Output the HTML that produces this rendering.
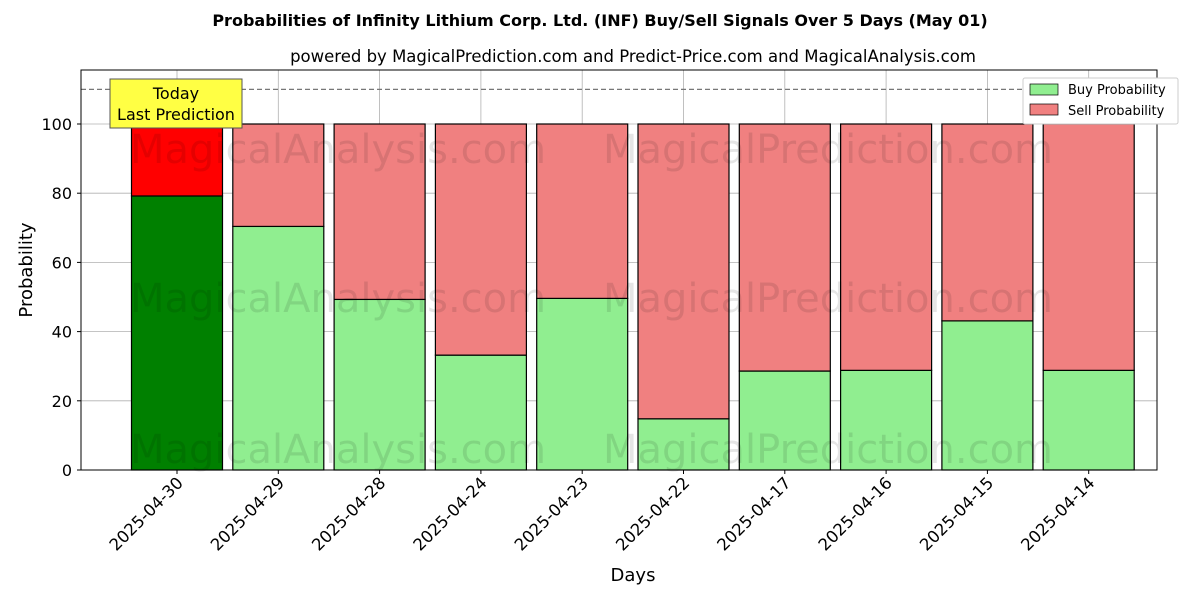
<!DOCTYPE html>
<html><head><meta charset="utf-8"><style>
body{margin:0;background:#fff;}
svg text{font-family:"DejaVu Sans","Liberation Sans",sans-serif;}
</style></head><body>
<svg id="chart" width="1200" height="600" xmlns="http://www.w3.org/2000/svg">
<text x="600" y="26" text-anchor="middle" font-size="16" font-weight="bold">Probabilities of Infinity Lithium Corp. Ltd. (INF) Buy/Sell Signals Over 5 Days (May 01)</text>
<text x="633" y="62" text-anchor="middle" font-size="16.5">powered by MagicalPrediction.com and Predict-Price.com and MagicalAnalysis.com</text>
<g id="grid"></g>
<g id="bars"></g>
<g id="wm" fill="#000" fill-opacity="0.1" font-size="40">
<text x="130" y="163">MagicalAnalysis.com</text>
<text x="603" y="163">MagicalPrediction.com</text>
<text x="130" y="312">MagicalAnalysis.com</text>
<text x="603" y="312">MagicalPrediction.com</text>
<text x="130" y="463">MagicalAnalysis.com</text>
<text x="603" y="463">MagicalPrediction.com</text>
</g>
<g id="axes"></g>
<rect x="81" y="70" width="1076" height="400" fill="none" stroke="#000" stroke-width="1"/>
<text x="633" y="581" text-anchor="middle" font-size="18">Days</text>
<text transform="translate(32,270) rotate(-90)" text-anchor="middle" font-size="18">Probability</text>
<g>
<rect x="110" y="79" width="132" height="49" fill="#ffff44" stroke="#555"/>
<text x="176" y="99" text-anchor="middle" font-size="16">Today</text>
<text x="176" y="120" text-anchor="middle" font-size="16">Last Prediction</text>
</g>
<g>
<rect x="1023" y="78" width="155" height="46" fill="#fff" stroke="#ccc" rx="2"/>
<rect x="1030" y="84" width="28" height="11" fill="#90ee90" stroke="#000" stroke-width="0.7"/>
<text x="1068" y="94" font-size="13">Buy Probability</text>
<rect x="1030" y="104" width="28" height="11" fill="#f08080" stroke="#000" stroke-width="0.7"/>
<text x="1068" y="115" font-size="13">Sell Probability</text>
</g>
</svg>
<script>
const categories=["2025-04-30","2025-04-29","2025-04-28","2025-04-24","2025-04-23","2025-04-22","2025-04-17","2025-04-16","2025-04-15","2025-04-14"];
const buyValues=[79.2,70.4,49.3,33.2,49.6,14.8,28.6,28.8,43.1,28.8];
const sellValues=[20.8,29.6,50.7,66.8,50.4,85.2,71.4,71.2,56.9,71.2];
const yTicks=[0,20,40,60,80,100];
const NS="http://www.w3.org/2000/svg";
const y=v=>470-v*3.46;
const x=i=>177+i*101.3;
const bw=91;
function mk(tag,attrs,parent){const e=document.createElementNS(NS,tag);for(const k in attrs)e.setAttribute(k,attrs[k]);parent.appendChild(e);return e;}
const grid=document.getElementById('grid'),bars=document.getElementById('bars'),axes=document.getElementById('axes');
yTicks.forEach(t=>{
 const l=mk('line',{x1:81,x2:1157,y1:y(t),y2:y(t),stroke:'#b0b0b0','stroke-width':0.8},grid);
 
 
 mk('line',{x1:77,x2:81,y1:y(t),y2:y(t),stroke:'#000'},axes);
 const tx=mk('text',{x:72,y:y(t)+6,'text-anchor':'end','font-size':16},axes);
 tx.textContent=t;
 
 
});
categories.forEach((c,i)=>{
 const g=mk('line',{x1:x(i),x2:x(i),y1:70,y2:470,stroke:'#b0b0b0','stroke-width':0.8},grid);
 
 
 const b=mk('rect',{x:x(i)-bw/2,y:y(buyValues[i]),width:bw,height:y(0)-y(buyValues[i]),fill:i===0?'#008000':'#90ee90',stroke:'#000','stroke-width':1.2},bars);
 
 
 const s=mk('rect',{x:x(i)-bw/2,y:y(buyValues[i]+sellValues[i]),width:bw,height:y(buyValues[i])-y(buyValues[i]+sellValues[i]),fill:i===0?'#ff0000':'#f08080',stroke:'#000','stroke-width':1.2},bars);
 
 
 mk('line',{x1:x(i),x2:x(i),y1:470,y2:474,stroke:'#000'},axes);
 const tx=mk('text',{transform:`translate(${x(i)+7},${484}) rotate(-45)`,'text-anchor':'end','font-size':16.5},axes);
 tx.textContent=c;
 
 
});
const d=mk('line',{x1:81,x2:1157,y1:y(110),y2:y(110),stroke:'#777','stroke-dasharray':'5,3','stroke-width':1.2},grid);


</script>
</body></html>
